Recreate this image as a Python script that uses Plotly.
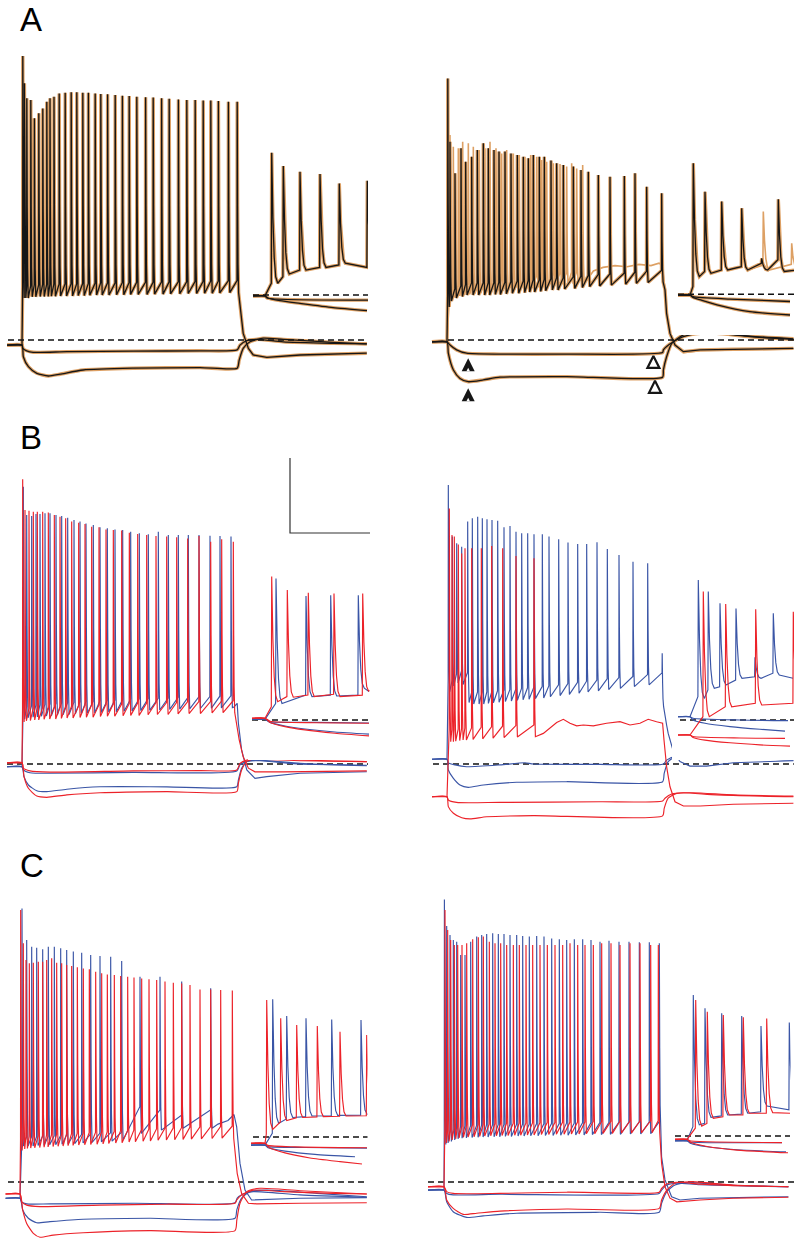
import plotly.graph_objects as go

# ---------------- scales (layout) ----------------
W, H = 794, 1239
PX_PER_MS = 0.4          # main traces
PX_PER_MS_INSET = 1.0    # expanded-time insets
PX_PER_MV = 3.0
REST_MV = -60.0          # dashed reference level

BLACK = "#161616"
ORANGE = "#DDA064"
RED = "#EC2229"
BLUE = "#3A55A6"
DASH_COLOR = "#111111"

MAIN_SHAPE = dict(rise=0.4, fall=[(1.0, 0.55), (2.0, 0.85), (3.5, 1.0)], thr=4.0)
INSET_SHAPE = dict(rise=0.4, fall=[(1.2, 0.5), (2.5, 0.8), (4.0, 0.95), (6.0, 1.0)], thr=2.0)

# ---------------- data: panel A left (black / orange) ----------------
AL_BASE = -61.7
AL_SPK_T = [2, 6, 12, 22, 31, 42, 52, 62, 70, 80, 93, 108, 123, 137, 152, 166, 183, 197, 214, 233,
            251, 268, 287, 309, 328, 349, 368, 391, 412, 433, 453, 472, 491, 516, 538]
AL_SPK_PK = [34.7, 25.6, 20.6, 20.0, 13.9, 15.6, 17.2, 19.4, 20.6, 21.1, 22.2, 22.4, 22.6, 22.6, 22.4,
             22.4, 22.2, 22.0, 21.9, 21.7, 21.4, 21.3, 21.1, 20.9, 20.8, 20.6, 20.4, 20.2, 20.0, 20.0,
             19.8, 19.8, 19.7, 19.4, 19.4]
AL_SPK_TR = [-46.0, -46.0, -46.0, -45.6, -45.6, -45.5, -45.5, -45.5, -45.4, -45.4, -45.3, -45.3, -45.3,
             -45.2, -45.2, -45.1, -45.0, -45.0, -45.0, -44.9, -44.9, -44.8, -44.8, -44.8, -44.7, -44.7,
             -44.6, -44.6, -44.5, -44.5, -44.4, -44.4, -44.3, -44.2, -44.2]
AL_POST = [[553, -57.8], [566, -62.8], [578, -65.0], [612, -65.8], [695, -65.0], [862, -64.4]]
AL_H1 = [[-37, -61.7], [0, -61.7], [1.7, -62.8], [11.7, -63.6], [28, -64.1], [112, -63.9], [278, -63.7],
         [445, -63.6], [538, -63.3], [545, -61.7], [562, -60.2], [587, -59.8], [653, -60.6], [778, -61.1],
         [862, -61.3]]
AL_H2 = [[-37, -61.7], [0, -61.7], [3.3, -65.6], [16, -68.9], [37, -71.1], [66, -72.0], [95, -71.4],
         [153, -70.0], [278, -69.4], [445, -69.2], [538, -69.4], [543, -66.7], [553, -62.8], [570, -60.6],
         [603, -59.4], [653, -59.8], [778, -60.8], [862, -61.3]]
ALI_BASE = -60.3
ALI_SPK_T = [6.7, 18.3, 35.0, 55.0, 74.3, 102.3]
ALI_SPK_PK = [-12.6, -17.0, -18.9, -19.7, -22.8, -21.9]
ALI_SPK_TR = [-56.1, -53.0, -51.7, -50.8, -49.4, -50.0]
ALI_SPK_PRE = [-56.1, -53.9, -51.7, -50.8, -50.0, -50.8]
ALI_H1 = [[-12, -60.3], [0, -60.3], [2, -61.0], [103, -61.7]]
ALI_H2 = [[-12, -60.3], [0, -60.3], [3, -61.0], [15, -61.9], [35, -62.8], [68, -64.2], [102, -65.2]]

# ---------------- data: panel A right ----------------
AR_BASE = -60.6
AR_SPK_T = [2, 7.5, 20, 35, 46.7, 61.7, 75.8, 90.8, 103.3, 117.5, 130, 145, 160, 175.8, 190.8, 203.3,
            215.8, 230.8, 243.3, 260, 274.2, 290.8, 315.8, 335, 353.3, 378.3, 407.5, 443.3, 470, 499.2, 536.7]
AR_SPK_PK = [27.2, 6.1, -4.4, 3.9, -0.6, 1.1, 3.3, 5.6, 3.9, 3.3, 2.8, 2.8, 2.2, 1.7, 1.1, 0.6, 1.7,
             1.1, 1.1, -0.2, -1.1, -1.7, -2.2, -3.3, -3.9, -5.0, -5.6, -5.3, -4.4, -8.9, -11.1]
AR_SPK_TR = [-49.0, -47.0, -46.0, -45.5, -45.0, -45.0, -45.0, -45.0, -45.0, -44.8, -44.8, -44.6, -44.4,
             -44.4, -44.2, -44.0, -44.0, -43.8, -43.6, -43.3, -43.3, -43.0, -42.8, -42.5, -42.2, -42.0,
             -41.7, -41.4, -41.1, -40.8, -40.6]
AR_POST = [[545, -43.3], [549, -51.1], [557.5, -57.8], [570, -61.7], [591, -63.9], [633, -63.3],
           [716, -63.1], [866, -62.8]]
AR_H1 = [[-37.5, -60.6], [0, -60.6], [7.5, -61.7], [24, -63.3], [49, -64.4], [132.5, -64.7], [299, -64.7],
         [539, -64.2], [541, -63.3], [549, -62.2], [566, -60.6], [591, -58.9], [633, -57.8], [674, -57.8],
         [758, -58.9], [866, -59.8]]
AR_H2 = [[-37.5, -60.6], [0, -60.6], [3.3, -64.4], [16, -70.0], [32.5, -72.8], [53, -73.9], [91, -73.3],
         [132.5, -72.4], [299, -72.2], [539, -72.4], [541, -70.0], [549, -65.6], [562, -61.1], [591, -58.3],
         [633, -57.2], [683, -57.6], [758, -58.7], [866, -59.6]]
AR_OR_T = [7.5, 15.8, 28.3, 39.2, 53.3, 65.8, 80.8, 95.0, 107.5, 122.5, 136.7, 149.2, 165.8, 180.8, 195.0,
           209.2, 224.2, 236.7, 249.2, 265.8, 282.5, 299.2, 311.7, 324.2, 339.2]
AR_OR_PK = [8.3, 4.4, 3.9, 6.1, 5.6, 4.4, 3.3, 3.9, 6.1, 3.9, 2.2, 3.3, 2.2, 1.7, 1.1, 1.7, 1.1, 0.0, -0.6,
            -1.1, -1.3, -2.2, -1.1, -2.8, -1.7]
AR_OR_TR = [-46.5, -45.8, -45.3, -45.0, -44.8, -44.6, -44.4, -44.2, -44.0, -43.8, -43.6, -43.4, -43.2,
            -43.0, -42.8, -42.6, -42.4, -42.2, -42.0, -41.8, -41.6, -41.4, -41.2, -41.0, -40.5]
AR_OR_TAIL = [[350, -40.0], [366, -37.0], [390, -35.8], [420, -35.2], [450, -35.6], [480, -34.8],
              [510, -35.2], [530, -34.4], [538, -35.0], [545, -43.3], [549, -51.1], [557.5, -57.8],
              [570, -61.7], [591, -64.2], [633, -63.6], [716, -63.3], [866, -63.0]]
ARI_BASE = -60.3
ARI_SPK_T = [3.3, 15.0, 31.7, 51.7, 71.7, 88.3]
ARI_SPK_PK = [-16.3, -25.8, -29.1, -31.3, -48.0, -28.3]
ARI_SPK_TR = [-54.1, -53.0, -51.9, -51.9, -51.9, -52.4]
ARI_SPK_PRE = [-57.4, -52.4, -51.9, -50.8, -49.7, -48.5]
ARI_TAIL = [[104, -52.0]]
ARI_OR_T = [3.3, 15.0, 31.7, 51.7, 73.3, 101.7]
ARI_OR_PK = [-16.3, -25.8, -29.1, -31.3, -32.4, -43.0]
ARI_OR_TR = [-54.1, -53.0, -51.9, -51.9, -51.9, -52.0]
ARI_OR_PRE = [-57.4, -52.4, -51.9, -50.8, -50.3, -50.0]
ARI_H1 = [[-12, -60.3], [0, -60.3], [3, -60.8], [40, -61.6], [100, -62.4]]
ARI_H2 = [[-12, -60.3], [0, -60.3], [3, -61.0], [12, -62.0], [27, -63.5], [60, -65.8], [100, -66.9]]
AR_ARROW_FILLED_T = [53, 53]
AR_ARROW_FILLED_V = [-66.1, -76.1]
AR_ARROW_OPEN_T = [516, 520]
AR_ARROW_OPEN_V = [-65.3, -73.6]

# ---------------- data: panel B left (blue / red) ----------------
BL_R_BASE = -59.6
BL_R_T = [1.7, 7.5, 17.5, 28.3, 38.3, 51.7, 65.8, 80.8, 95.0, 109.2, 124.2, 141.7, 157.5, 174.2, 192.5,
          210.0, 228.3, 249.2, 268.3, 289.2, 311.7, 335.0, 361.7, 386.7, 414.2, 442.5, 471.7, 499.2, 528.3]
BL_R_PK = [34.9, 24.7, 24.4, 24.1, 24.1, 24.1, 23.8, 23.0, 22.4, 21.9, 20.8, 20.4, 20.0, 19.1, 18.9,
           18.2, 18.0, 17.8, 17.1, 16.7, 16.3, 16.0, 15.8, 15.6, 15.2, 16.0, 14.1, 14.9, 14.1]
BL_R_TR = [-46.0, -45.6, -45.5, -45.3, -45.3, -45.1, -45.0, -45.0, -44.8, -44.7, -44.7, -44.5, -44.4,
           -44.4, -44.2, -44.1, -44.1, -43.9, -43.8, -43.8, -43.6, -43.5, -43.5, -43.3, -43.2, -43.2,
           -43.0, -42.9, -42.8]
BL_R_POST = [[543, -52.0], [553, -57.6], [566, -61.4], [582.5, -62.6], [653, -62.6], [862, -62.3]]
BL_B_BASE = -60.9
BL_B_T = [3.3, 11.7, 24.2, 35.0, 45.0, 57.5, 70.0, 85.0, 99.2, 114.2, 130.0, 145.0, 160.0, 178.3, 195.0,
          213.3, 232.5, 251.7, 271.7, 293.3, 315.8, 340.8, 365.8, 390.8, 415.8, 442.5, 470.0, 495.0, 522.5]
BL_B_PK = [32.4, 23.0, 22.7, 23.3, 23.3, 23.6, 23.6, 23.0, 22.7, 22.1, 21.3, 20.8, 20.2, 19.7, 18.9,
           18.6, 18.2, 18.0, 17.4, 16.9, 16.6, 17.4, 16.3, 16.3, 16.3, 16.3, 16.1, 16.0, 15.8]
BL_B_TR = [-45.0, -44.6, -44.4, -44.3, -44.1, -44.0, -43.9, -43.7, -43.6, -43.5, -43.3, -43.2, -43.1,
           -43.0, -42.8, -42.7, -42.6, -42.4, -42.3, -42.2, -42.1, -42.0, -41.8, -41.7, -41.6, -41.5,
           -41.4, -41.3, -41.2]
BL_B_POST = [[530, -41.0], [538, -39.8], [541, -46.4], [549, -55.3], [562, -62.0], [582.5, -64.8],
             [612, -64.2], [695, -63.1], [862, -62.6]]
BL_R_H1 = [[-37.5, -59.6], [0, -59.6], [3.3, -61.4], [20, -62.3], [70, -62.7], [278, -62.3], [445, -62.2],
           [537, -62.0], [545, -59.8], [562, -58.7], [595, -58.4], [695, -58.9], [862, -59.2]]
BL_B_H1 = [[-37.5, -60.9], [0, -60.9], [3.3, -62.0], [20, -62.9], [70, -63.1], [278, -62.8], [537, -62.3],
           [545, -60.3], [562, -59.2], [595, -58.9], [695, -60.0], [862, -60.4]]
BL_R_H2 = [[-37.5, -59.6], [0, -59.6], [5, -64.2], [16, -68.1], [37, -70.7], [62, -71.1], [112, -70.3],
           [195, -69.6], [362, -69.2], [537, -69.2], [541, -66.4], [549, -62.0], [562, -59.2], [587, -58.1],
           [653, -58.4], [778, -59.0], [862, -59.2]]
BL_B_H2 = [[-37.5, -60.9], [0, -60.9], [5, -64.2], [16, -67.0], [37, -68.9], [62, -69.2], [112, -68.4],
           [195, -67.6], [362, -67.6], [537, -67.6], [541, -65.3], [549, -61.4], [562, -59.2], [587, -58.7],
           [695, -59.8], [862, -60.6]]
BLI_R_BASE = -59.4
BLI_R_T = [6.7, 22.3, 43.3, 69.0, 97.7]
BLI_R_PK = [-12.2, -16.7, -17.6, -17.8, -17.8]
BLI_R_TR = [-53.9, -52.4, -52.2, -52.2, -50.5]
BLI_R_PRE = [-55.6, -52.2, -51.7, -51.4, -51.7]
BLI_R_TAIL = [[104, -50.0]]
BLI_B_BASE = -59.8
BLI_B_T = [11.0, 41.0, 65.7, 93.3]
BLI_B_PK = [-12.8, -18.7, -18.4, -18.4]
BLI_B_TR = [-54.5, -52.2, -52.0, -49.4]
BLI_B_PRE = [-54.5, -51.7, -51.7, -51.7]
BLI_B_TAIL = [[104, -50.5]]
BLI_R_H1 = [[-13, -59.4], [0, -59.4], [5, -60.4], [50, -60.9], [104, -61.1]]
BLI_R_H2 = [[-13, -59.4], [0, -59.4], [5, -60.8], [20, -62.2], [40, -63.3], [70, -64.4], [104, -65.3]]
BLI_B_H1 = [[-13, -59.8], [0, -59.8], [5, -60.6], [50, -60.8], [104, -61.0]]
BLI_B_H2 = [[-13, -59.8], [0, -59.8], [5, -60.8], [20, -62.0], [40, -63.0], [70, -64.0], [104, -64.7]]
SCALE_BAR_MS = 200
SCALE_BAR_MV = 25
SCALE_BAR_CORNER = [870, 17]   # (ms, mV) in panel B-left coordinates

# ---------------- data: panel B right ----------------
BR_B_BASE = -58.4
BR_B_T = [3.3, 13.3, 24.2, 36.7, 51.7, 63.3, 76.7, 88.3, 100.0, 112.5, 126.7, 142.5, 157.5, 172.5, 186.7,
          201.7, 217.5, 238.3, 255.0, 279.2, 302.5, 326.7, 349.2, 375.0, 400.8, 430.0, 465.0, 501.7, 538.0]
BR_B_PK = [33.0, 15.8, 13.6, 12.4, 20.8, 21.9, 22.4, 21.9, 21.6, 21.3, 21.1, 18.9, 19.3, 17.4, 16.9,
           16.9, 16.6, 16.6, 15.8, 14.9, 13.8, 13.3, 13.3, 13.9, 11.7, 9.7, 7.4, 6.9, -23.1]
BR_B_TR = [-36.0, -34.0, -33.0, -33.5, -39.5, -40.0, -40.0, -40.0, -39.8, -39.6, -39.4, -39.2, -39.0,
           -38.8, -38.6, -38.4, -38.2, -38.0, -37.6, -37.2, -36.8, -36.4, -36.0, -35.6, -35.2, -34.8,
           -34.2, -33.6, -40.9]
BR_B_POST = [[549, -47.0], [553, -49.8], [566, -55.9], [582.5, -59.2], [607.5, -60.7], [649, -60.7],
             [716, -59.6], [866, -58.9]]
BR_B_H1 = [[-37.5, -58.4], [0, -58.4], [3.3, -59.6], [20, -60.3], [49, -60.9], [132.5, -60.3], [195, -59.6],
           [216, -60.0], [382.5, -60.1], [541, -60.0], [549, -58.7], [574, -57.3], [616, -56.8], [674, -57.3],
           [758, -58.1], [866, -58.4]]
BR_B_H2 = [[-37.5, -58.4], [0, -58.4], [3.3, -62.0], [16, -64.8], [32.5, -67.0], [53, -67.8], [91, -67.0],
           [174, -66.1], [299, -65.9], [539, -65.9], [543, -63.1], [553, -59.2], [574, -57.3], [607.5, -56.7],
           [674, -57.3], [758, -58.1], [866, -58.7]]
BR_R_BASE = -70.9
BR_R_T = [5.8, 12.5, 18.3, 28.3, 36.7, 45.0, 61.7, 85.8, 111.7, 139.2, 172.5, 217.5]
BR_R_PK = [25.2, 16.3, 15.8, 13.2, 10.2, 11.9, 11.9, 11.9, 12.7, 11.9, 9.3, 8.6]
BR_R_TR = [-52.6, -52.6, -52.4, -52.2, -52.0, -52.0, -51.8, -51.6, -51.4, -51.2, -51.0, -50.9]
BR_R_POST = [[240.8, -49.8], [257.5, -48.1], [274.2, -46.2], [290.8, -45.1], [307.5, -46.4], [324.2, -47.3],
             [340.8, -47.0], [365.8, -47.3], [399, -46.4], [432.5, -45.9], [457.5, -47.0], [482.5, -46.4],
             [503, -45.1], [524, -45.9], [539, -46.4], [542.5, -52.0], [549, -60.9], [557.5, -67.6],
             [570, -72.6], [591, -74.0], [633, -74.0], [716, -73.4], [866, -73.1]]
BR_R_H1 = [[-37.5, -70.9], [0, -70.9], [3.3, -72.0], [24, -72.8], [132.5, -72.8], [382.5, -72.6],
           [539, -72.3], [545, -71.4], [562, -70.0], [591, -69.6], [674, -70.3], [866, -70.9]]
BR_R_H2 = [[-37.5, -70.9], [0, -70.9], [3.3, -74.2], [16, -76.4], [37, -77.9], [57.5, -78.3], [99, -77.6],
           [216, -77.2], [539, -77.3], [543, -74.8], [553, -71.4], [574, -69.8], [616, -69.6], [716, -70.3],
           [866, -70.7]]
BRI_B_BASE = -58.9
BRI_B_T = [8.3, 18.3, 30.0, 46.0, 65.0, 83.3]
BRI_B_PK = [-13.3, -17.2, -21.1, -22.8, -39.1, -24.4]
BRI_B_TR = [-52.8, -49.4, -48.3, -46.1, -46.1, -45.0]
BRI_B_PRE = [-52.2, -50.0, -48.9, -46.7, -45.6, -44.4]
BRI_B_TAIL = [[103, -46.1]]
BRI_R_BASE = -65.0
BRI_R_T = [13.3, 35.7, 65.7, 103.3]
BRI_R_PK = [-17.2, -21.3, -23.1, -23.9]
BRI_R_TR = [-58.9, -55.6, -55.0, -55.0]
BRI_R_PRE = [-58.9, -55.6, -54.4, -54.4]
BRI_B_H1 = [[-12, -58.9], [0, -58.9], [3, -59.4], [50, -60.0], [98, -60.2]]
BRI_B_H2 = [[-12, -58.9], [0, -58.9], [3, -60.0], [15, -61.1], [40, -62.2], [70, -63.1], [95, -63.7]]
BRI_R_H1 = [[-12, -65.0], [0, -65.0], [3, -65.5], [50, -66.0], [95, -66.1]]
BRI_R_H2 = [[-12, -65.0], [0, -65.0], [3, -65.8], [15, -66.7], [40, -67.6], [70, -68.3], [100, -68.7]]

# ---------------- data: panel C left ----------------
CL_R_BASE = -64.0
CL_R_T = [1.7, 8.3, 15.0, 23.3, 33.3, 45.8, 56.7, 66.7, 79.2, 91.7, 104.2, 116.7, 129.2, 143.3, 158.3,
          173.3, 189.2, 204.2, 218.3, 235.8, 251.7, 269.2, 285.0, 304.2, 322.5, 341.7, 362.5, 383.3, 404.2,
          425.0, 450.0, 476.7, 501.7, 530.8]
CL_R_PK = [30.7, 19.6, 14.0, 12.9, 13.1, 13.4, 13.4, 14.0, 14.6, 13.1, 12.9, 12.3, 12.0, 11.6, 11.2,
           10.9, 10.1, 9.6, 9.2, 9.0, 8.7, 8.4, 8.2, 7.8, 7.6, 7.3, 6.8, 6.4, 6.2, 5.7, 4.2, 4.2, 4.0, 3.8]
CL_R_TR = [-49.5, -49.0, -48.8, -48.7, -48.6, -48.5, -48.4, -48.3, -48.2, -48.1, -48.0, -47.9, -47.8,
           -47.7, -47.6, -47.5, -47.4, -47.3, -47.2, -47.0, -46.9, -46.7, -46.6, -46.4, -46.3, -46.1,
           -46.0, -45.9, -45.8, -45.7, -45.6, -45.5, -45.4, -45.4]
CL_R_POST = [[543, -57.1], [554, -63.8], [571, -67.1], [592, -67.3], [700, -67.1], [867, -66.9]]
CL_B_BASE = -65.4
CL_B_T = [5.0, 16.7, 29.2, 41.7, 56.7, 70.8, 85.8, 101.7, 116.7, 133.3, 154.2, 176.7, 200.0, 226.7, 254.2,
          300.0, 350.0, 404.2, 476.7]
CL_B_PK = [31.2, 20.7, 18.4, 18.1, 17.6, 18.4, 18.4, 17.9, 17.3, 16.8, 16.4, 15.7, 15.3, 15.1, 13.7, 8.4,
           8.4, 6.8, 4.6]
CL_B_TR = [-48.0, -48.0, -48.0, -47.8, -47.8, -47.6, -47.6, -47.4, -47.4, -47.2, -47.0, -46.8, -46.6,
           -46.4, -46.0, -43.8, -42.7, -42.1, -42.1]
CL_B_PRE = [-46.0, -45.0, -45.0, -45.0, -44.8, -44.8, -44.6, -44.6, -44.4, -44.4, -44.2, -44.0, -43.8,
            -43.6, -43.4, -34.9, -36.0, -37.7, -36.0]
CL_B_POST = [[495, -40.7], [520, -39.5], [535, -37.5], [541.7, -41.6], [550, -53.8], [562.5, -62.7],
             [579, -66.0], [617, -65.8], [700, -65.4], [867, -65.2]]
CL_R_H1 = [[-36, -64.0], [0, -64.0], [4, -66.6], [16.7, -67.7], [50, -68.2], [200, -67.7], [367, -67.4],
           [537.5, -67.1], [542, -66.0], [554, -64.3], [583, -62.7], [658, -63.2], [783, -63.8], [867, -64.0]]
CL_B_H1 = [[-36, -65.4], [0, -65.4], [4, -66.6], [16.7, -67.3], [75, -67.3], [283, -67.1], [537.5, -66.9],
           [543, -65.4], [558, -64.0], [583, -63.2], [700, -64.3], [867, -65.1]]
CL_B_H2 = [[-36, -65.4], [0, -65.4], [6.7, -69.3], [20.8, -72.1], [41.7, -73.6], [75, -73.2], [158, -72.4],
           [325, -72.1], [537.5, -72.1], [542, -69.3], [554, -65.4], [575, -63.2], [617, -62.7], [742, -63.8],
           [867, -64.9]]
CL_R_H2 = [[-36, -64.0], [0, -64.0], [6.7, -69.3], [16.7, -73.8], [33.3, -77.1], [50, -78.4], [83, -77.7],
           [158, -76.9], [325, -76.2], [537.5, -76.2], [542, -72.7], [550, -67.1], [567, -63.2], [600, -62.1],
           [700, -62.9], [867, -64.0]]
CLI_R_BASE = -62.1
CLI_R_T = [1.7, 15.7, 31.7, 52.3, 75.0, 101.7]
CLI_R_PK = [-14.3, -20.4, -22.7, -23.0, -24.9, -26.0]
CLI_R_TR = [-57.5, -54.5, -53.5, -53.2, -53.0, -52.8]
CLI_R_PRE = [-59.0, -55.0, -53.6, -53.3, -53.1, -52.9]
CLI_B_BASE = -62.7
CLI_B_T = [7.7, 21.7, 41.0, 66.7, 96.0]
CLI_B_PK = [-14.1, -19.7, -20.4, -20.8, -21.0]
CLI_B_TR = [-55.5, -53.5, -53.0, -52.8, -52.6]
CLI_B_PRE = [-58.8, -54.0, -53.2, -52.9, -52.7]
CLI_B_TAIL = [[102.5, -52.6]]
CLI_R_H1 = [[-14, -62.1], [0, -62.1], [3, -62.8], [30, -63.3], [102, -63.6]]
CLI_R_H2 = [[-14, -62.1], [0, -62.1], [4, -63.5], [20, -65.3], [45, -67.0], [75, -68.2], [97, -69.0]]
CLI_B_H1 = [[-14, -62.7], [0, -62.7], [3, -63.2], [40, -63.5], [102, -63.7]]
CLI_B_H2 = [[-14, -62.7], [0, -62.7], [3, -63.6], [20, -64.7], [50, -65.8], [90, -66.6]]

# ---------------- data: panel C right ----------------
CR_B_BASE = -62.7
CR_B_T = [1.0, 6.7, 15.0, 23.3, 31.7, 41.7, 52.5, 66.7, 81.7, 94.2, 106.7, 121.7, 135.8, 150.0, 165.0,
          181.7, 196.7, 213.3, 231.7, 250.0, 269.2, 288.3, 306.7, 325.8, 346.7, 367.5, 390.0, 412.5, 437.5,
          462.5, 488.3, 513.3, 538.3]
CR_B_PK = [34.2, 25.3, 22.3, 20.7, 20.1, 15.7, 15.7, 20.1, 21.8, 22.3, 22.7, 22.9, 22.7, 22.7, 22.3,
           22.3, 22.0, 21.8, 22.0, 21.8, 21.2, 20.9, 20.7, 20.9, 20.9, 20.7, 20.1, 20.4, 20.1, 20.1, 19.9,
           19.9, 19.6]
CR_B_TR = [-47.5, -47.0, -46.5, -46.0, -45.6, -45.4, -45.3, -45.2, -45.1, -45.0, -45.0, -44.9, -44.9,
           -44.8, -44.8, -44.7, -44.7, -44.6, -44.6, -44.5, -44.5, -44.4, -44.4, -44.3, -44.3, -44.2,
           -44.2, -44.1, -44.1, -44.0, -44.0, -43.9, -43.9]
CR_B_POST = [[544, -51.6], [552.5, -59.3], [569, -64.9], [590, -66.0], [640, -65.4], [861, -64.9]]
CR_R_BASE = -61.6
CR_R_T = [2.5, 9.2, 16.7, 25.8, 34.2, 45.0, 56.7, 71.7, 85.8, 98.3, 113.3, 127.5, 141.7, 156.7, 173.3,
          188.3, 205.0, 221.7, 240.0, 258.3, 277.5, 296.7, 315.0, 334.2, 352.5, 373.3, 394.2, 417.5, 440.0,
          465.0, 490.0, 516.7, 535.8]
CR_R_PK = [30.7, 24.0, 20.7, 19.0, 19.0, 19.0, 19.6, 20.9, 21.6, 21.8, 20.1, 19.6, 19.6, 19.0, 19.0,
           19.0, 19.0, 19.0, 19.0, 19.0, 19.0, 19.0, 19.6, 19.0, 19.0, 19.0, 19.6, 19.6, 19.0, 19.6, 19.6,
           19.0, 19.0]
CR_R_TR = [-47.0, -46.5, -46.0, -45.6, -45.3, -45.1, -45.0, -44.9, -44.8, -44.7, -44.6, -44.6, -44.5,
           -44.5, -44.4, -44.4, -44.3, -44.3, -44.2, -44.2, -44.1, -44.1, -44.0, -44.0, -43.9, -43.9,
           -43.8, -43.8, -43.7, -43.7, -43.6, -43.6, -43.5]
CR_R_POST = [[544, -53.8], [552.5, -61.6], [565, -65.4], [582, -66.6], [640, -66.0], [723, -65.4],
             [861, -65.1]]
CR_R_H1 = [[-40, -61.6], [0, -61.6], [6.7, -63.2], [23, -63.8], [140, -63.8], [307, -63.4], [538, -63.4],
           [544, -62.1], [557, -60.7], [582, -60.1], [640, -60.7], [723, -61.2], [861, -61.6]]
CR_B_H1 = [[-40, -62.7], [0, -62.7], [6.7, -63.8], [23, -64.3], [140, -64.1], [538, -63.8], [544, -62.7],
           [557, -61.0], [582, -60.4], [640, -60.9], [861, -61.6]]
CR_R_H2 = [[-40, -61.6], [0, -61.6], [6.7, -66.0], [23, -68.8], [48, -70.8], [82, -70.4], [140, -69.7],
           [307, -69.0], [538, -68.8], [544, -66.0], [557, -62.7], [577.5, -60.4], [615, -59.9], [723, -61.0],
           [861, -61.6]]
CR_B_H2 = [[-40, -62.7], [0, -62.7], [6.7, -66.6], [23, -69.9], [56.7, -71.8], [98, -71.3], [182, -70.4],
           [390, -70.1], [538, -70.1], [544, -67.1], [557, -63.2], [577.5, -61.0], [615, -60.2], [723, -61.1],
           [861, -61.6]]
CRI_B_BASE = -61.6
CRI_B_T = [6.3, 18.0, 34.7, 54.7, 74.0, 102.3]
CRI_B_PK = [-13.0, -17.4, -19.1, -20.0, -23.3, -22.2]
CRI_B_TR = [-56.3, -53.8, -53.0, -52.4, -50.0, -51.0]
CRI_B_PRE = [-56.9, -55.8, -53.3, -52.7, -51.9, -51.3]
CRI_R_BASE = -61.1
CRI_R_T = [8.7, 20.3, 36.3, 56.3, 79.7]
CRI_R_PK = [-14.7, -18.6, -19.7, -20.4, -20.8]
CRI_R_TR = [-56.7, -54.1, -53.0, -52.4, -52.2]
CRI_R_PRE = [-57.4, -55.8, -53.6, -53.0, -52.4]
CRI_R_TAIL = [[103, -52.4]]
CRI_R_H1 = [[-12, -61.1], [0, -61.1], [3, -61.6], [95, -62.2]]
CRI_B_H1 = [[-12, -61.6], [0, -61.6], [3, -62.0], [95, -62.2]]
CRI_R_H2 = [[-12, -61.1], [0, -61.1], [4, -62.2], [20, -63.5], [50, -64.7], [101, -65.6]]
CRI_B_H2 = [[-12, -61.6], [0, -61.6], [4, -62.5], [20, -63.6], [50, -64.6], [99, -65.3]]

# dashed reference extents (ms) : main, inset
DASH_EXT = {
    "AL": ([-35, 865], [-12, 103]),
    "AR": ([2.5, 870], [-12, 104]),
    "BL": ([-37.5, 865], [-13, 105]),
    "BR": ([-35, 867], [-10, 104]),
    "CL": ([-30, 870], [-12, 103]),
    "CR": ([-40, 875], [-12, 103]),
}

# ---------------- layout geometry (pixels) ----------------
PANELS = {
    "AL": dict(col=(0, 400), row=(0, 415), onset=22, dash=340,
               ins_x=(248, 368), ins_y=(120, 335), ins_onset=265, ins_dash=295),
    "AR": dict(col=(400, 794), row=(0, 415), onset=447, dash=340,
               ins_x=(672, 794), ins_y=(120, 335), ins_onset=690, ins_dash=294.3),
    "BL": dict(col=(0, 400), row=(420, 845), onset=22, dash=764,
               ins_x=(248, 370), ins_y=(540, 760), ins_onset=265, ins_dash=720),
    "BR": dict(col=(400, 794), row=(420, 845), onset=447, dash=764,
               ins_x=(672, 794), ins_y=(540, 760), ins_onset=690, ins_dash=720),
    "CL": dict(col=(0, 400), row=(850, 1239), onset=20, dash=1182,
               ins_x=(248, 367.5), ins_y=(960, 1175), ins_onset=265, ins_dash=1137),
    "CR": dict(col=(400, 794), row=(850, 1239), onset=444, dash=1182,
               ins_x=(668, 790.5), ins_y=(960, 1175), ins_onset=687, ins_dash=1136),
}
ORDER = ["AL", "AR", "BL", "BR", "CL", "CR"]


def train_xy(t_start, base, times, peaks, troughs, pre=None, tail=(), shape=MAIN_SHAPE):
    xs, ys = [t_start, 0.0], [base, base]
    n = len(times)
    for i in range(n):
        t, pk, tr = times[i], peaks[i], troughs[i]
        if pre is not None:
            p = pre[i]
        elif i == 0:
            p = troughs[0] + shape["thr"]
        else:
            p = troughs[i - 1] + shape["thr"]
        xs.append(max(t - shape["rise"], xs[-1]))
        ys.append(p)
        xs.append(t)
        ys.append(pk)
        t_next = times[i + 1] - shape["rise"] if i + 1 < n else float("inf")
        for dt, frac in shape["fall"]:
            if t + dt >= t_next:
                break
            xs.append(t + dt)
            ys.append(pk - frac * (pk - tr))
    for tt, vv in tail:
        xs.append(tt)
        ys.append(vv)
    return xs, ys


def pts_xy(pts):
    return [p[0] for p in pts], [p[1] for p in pts]


fig = go.Figure()
axis_of = {}
layout_axes = {}
for k, name in enumerate(ORDER):
    P = PANELS[name]
    im, ii = 2 * k + 1, 2 * k + 2
    axis_of[name] = (im, ii)
    x0, x1 = P["col"]
    y0, y1 = P["row"]
    layout_axes["xaxis%d" % im] = dict(domain=[x0 / W, x1 / W],
                                       range=[(x0 - P["onset"]) / PX_PER_MS, (x1 - P["onset"]) / PX_PER_MS])
    layout_axes["yaxis%d" % im] = dict(domain=[1 - y1 / H, 1 - y0 / H],
                                       range=[REST_MV + (P["dash"] - y1) / PX_PER_MV,
                                              REST_MV + (P["dash"] - y0) / PX_PER_MV])
    x0, x1 = P["ins_x"]
    y0, y1 = P["ins_y"]
    layout_axes["xaxis%d" % ii] = dict(domain=[x0 / W, x1 / W],
                                       range=[(x0 - P["ins_onset"]) / PX_PER_MS_INSET,
                                              (x1 - P["ins_onset"]) / PX_PER_MS_INSET])
    layout_axes["yaxis%d" % ii] = dict(domain=[1 - y1 / H, 1 - y0 / H],
                                       range=[REST_MV + (P["ins_dash"] - y1) / PX_PER_MV,
                                              REST_MV + (P["ins_dash"] - y0) / PX_PER_MV])

for key, ax in layout_axes.items():
    ax.update(visible=False, showgrid=False, zeroline=False, fixedrange=True, autorange=False)
    if key.startswith("yaxis"):
        ax["anchor"] = "x" + key[5:]
    else:
        ax["anchor"] = "y" + key[5:]


def add(xs, ys, ax, color, width, smooth=False, dash=None):
    ref = "" if ax == 1 else str(ax)
    line = dict(color=color, width=width)
    if smooth:
        line.update(shape="spline", smoothing=0.6)
    if dash:
        line["dash"] = dash
    fig.add_trace(go.Scatter(x=xs, y=ys, mode="lines", line=line, hoverinfo="skip",
                             showlegend=False, xaxis="x" + ref, yaxis="y" + ref))


def add_dash(name):
    im, ii = axis_of[name]
    m, i = DASH_EXT[name]
    add(m, [REST_MV, REST_MV], im, DASH_COLOR, 1.4, dash="6px,4px")
    add(i, [REST_MV, REST_MV], ii, DASH_COLOR, 1.4, dash="6px,4px")


def add_cell(name, color, width, main, hyp, ins, ins_hyp):
    im, ii = axis_of[name]
    for h in hyp:
        add(*pts_xy(h), im, color, width, smooth=True)
    add(*main, im, color, width)
    for h in ins_hyp:
        add(*pts_xy(h), ii, color, width, smooth=True)
    add(*ins, ii, color, width)


# ---- Panel A left ----
al_main = train_xy(-37, AL_BASE, AL_SPK_T, AL_SPK_PK, AL_SPK_TR, tail=AL_POST)
al_ins = train_xy(-12, ALI_BASE, ALI_SPK_T, ALI_SPK_PK, ALI_SPK_TR, pre=ALI_SPK_PRE, shape=INSET_SHAPE)
add_cell("AL", ORANGE, 3.4, al_main, [AL_H1, AL_H2], al_ins, [ALI_H1, ALI_H2])
add_dash("AL")
add_cell("AL", BLACK, 1.3, al_main, [AL_H1, AL_H2], al_ins, [ALI_H1, ALI_H2])

# ---- Panel A right ----
ar_main = train_xy(-37.5, AR_BASE, AR_SPK_T, AR_SPK_PK, AR_SPK_TR, tail=AR_POST)
ar_ins = train_xy(-12, ARI_BASE, ARI_SPK_T, ARI_SPK_PK, ARI_SPK_TR, pre=ARI_SPK_PRE, tail=ARI_TAIL,
                  shape=INSET_SHAPE)
ar_or = train_xy(-37.5, AR_BASE, AR_OR_T, AR_OR_PK, AR_OR_TR, tail=AR_OR_TAIL)
ar_or_ins = train_xy(-12, ARI_BASE, ARI_OR_T, ARI_OR_PK, ARI_OR_TR, pre=ARI_OR_PRE, shape=INSET_SHAPE)
add_cell("AR", ORANGE, 3.4, ar_main, [AR_H1, AR_H2], ar_ins, [ARI_H1, ARI_H2])
add(*ar_or, axis_of["AR"][0], ORANGE, 1.6)
add(*ar_or_ins, axis_of["AR"][1], ORANGE, 1.6)
add_dash("AR")
add_cell("AR", BLACK, 1.3, ar_main, [AR_H1, AR_H2], ar_ins, [ARI_H1, ARI_H2])
ref = str(axis_of["AR"][0])
fig.add_trace(go.Scatter(x=AR_ARROW_FILLED_T, y=AR_ARROW_FILLED_V, mode="markers",
                         marker=dict(symbol="arrow-up", size=13, color=BLACK, line=dict(width=0)),
                         hoverinfo="skip", showlegend=False, xaxis="x" + ref, yaxis="y" + ref))
fig.add_trace(go.Scatter(x=AR_ARROW_FILLED_T, y=[v - 9.5 / PX_PER_MV for v in AR_ARROW_FILLED_V],
                         mode="markers",
                         marker=dict(symbol="arrow-up", size=3.5, color="white", line=dict(width=0)),
                         hoverinfo="skip", showlegend=False, xaxis="x" + ref, yaxis="y" + ref))
fig.add_trace(go.Scatter(x=AR_ARROW_OPEN_T, y=AR_ARROW_OPEN_V, mode="markers",
                         marker=dict(symbol="arrow-up-open", size=12, color=BLACK,
                                     line=dict(width=2.2, color=BLACK)),
                         hoverinfo="skip", showlegend=False, xaxis="x" + ref, yaxis="y" + ref))

# ---- Panel B left ----
add_dash("BL")
add_cell("BL", BLUE, 1.15,
         train_xy(-37.5, BL_B_BASE, BL_B_T, BL_B_PK, BL_B_TR, tail=BL_B_POST), [BL_B_H1, BL_B_H2],
         train_xy(-13, BLI_B_BASE, BLI_B_T, BLI_B_PK, BLI_B_TR, pre=BLI_B_PRE, tail=BLI_B_TAIL,
                  shape=INSET_SHAPE), [BLI_B_H1, BLI_B_H2])
add_cell("BL", RED, 1.15,
         train_xy(-37.5, BL_R_BASE, BL_R_T, BL_R_PK, BL_R_TR, tail=BL_R_POST), [BL_R_H1, BL_R_H2],
         train_xy(-13, BLI_R_BASE, BLI_R_T, BLI_R_PK, BLI_R_TR, pre=BLI_R_PRE, tail=BLI_R_TAIL,
                  shape=INSET_SHAPE), [BLI_R_H1, BLI_R_H2])
ct, cv = SCALE_BAR_CORNER
add([ct - SCALE_BAR_MS, ct - SCALE_BAR_MS, ct], [cv + SCALE_BAR_MV, cv, cv], axis_of["BL"][0], "#333333", 1.2)

# ---- Panel B right ----
add_dash("BR")
add_cell("BR", BLUE, 1.15,
         train_xy(-37.5, BR_B_BASE, BR_B_T, BR_B_PK, BR_B_TR, tail=BR_B_POST), [BR_B_H1, BR_B_H2],
         train_xy(-12, BRI_B_BASE, BRI_B_T, BRI_B_PK, BRI_B_TR, pre=BRI_B_PRE, tail=BRI_B_TAIL,
                  shape=INSET_SHAPE), [BRI_B_H1, BRI_B_H2])
add_cell("BR", RED, 1.15,
         train_xy(-37.5, BR_R_BASE, BR_R_T, BR_R_PK, BR_R_TR, tail=BR_R_POST), [BR_R_H1, BR_R_H2],
         train_xy(-12, BRI_R_BASE, BRI_R_T, BRI_R_PK, BRI_R_TR, pre=BRI_R_PRE, shape=INSET_SHAPE),
         [BRI_R_H1, BRI_R_H2])

# ---- Panel C left ----
add_dash("CL")
add_cell("CL", BLUE, 1.15,
         train_xy(-36, CL_B_BASE, CL_B_T, CL_B_PK, CL_B_TR, pre=CL_B_PRE, tail=CL_B_POST), [CL_B_H1, CL_B_H2],
         train_xy(-14, CLI_B_BASE, CLI_B_T, CLI_B_PK, CLI_B_TR, pre=CLI_B_PRE, tail=CLI_B_TAIL,
                  shape=INSET_SHAPE), [CLI_B_H1, CLI_B_H2])
add_cell("CL", RED, 1.15,
         train_xy(-36, CL_R_BASE, CL_R_T, CL_R_PK, CL_R_TR, tail=CL_R_POST), [CL_R_H1, CL_R_H2],
         train_xy(-14, CLI_R_BASE, CLI_R_T, CLI_R_PK, CLI_R_TR, pre=CLI_R_PRE, shape=INSET_SHAPE),
         [CLI_R_H1, CLI_R_H2])

# ---- Panel C right ----
add_dash("CR")
add_cell("CR", BLUE, 1.15,
         train_xy(-40, CR_B_BASE, CR_B_T, CR_B_PK, CR_B_TR, tail=CR_B_POST), [CR_B_H1, CR_B_H2],
         train_xy(-12, CRI_B_BASE, CRI_B_T, CRI_B_PK, CRI_B_TR, pre=CRI_B_PRE, shape=INSET_SHAPE),
         [CRI_B_H1, CRI_B_H2])
add_cell("CR", RED, 1.15,
         train_xy(-40, CR_R_BASE, CR_R_T, CR_R_PK, CR_R_TR, tail=CR_R_POST), [CR_R_H1, CR_R_H2],
         train_xy(-12, CRI_R_BASE, CRI_R_T, CRI_R_PK, CRI_R_TR, pre=CRI_R_PRE, tail=CRI_R_TAIL,
                  shape=INSET_SHAPE), [CRI_R_H1, CRI_R_H2])

# ---- panel letters (box top in px) ----
LETTERS = [("A", 0), ("B", 418), ("C", 846)]
annotations = [dict(text=t, x=19 / W, y=1 - ytop / H, xref="paper", yref="paper", xanchor="left",
                    yanchor="top", showarrow=False, borderpad=0,
                    font=dict(family="Liberation Sans, Arial, sans-serif", size=33, color="black"))
               for t, ytop in LETTERS]

fig.update_layout(width=W, height=H, autosize=False, margin=dict(l=0, r=0, t=0, b=0),
                  paper_bgcolor="white", plot_bgcolor="white", showlegend=False,
                  annotations=annotations, **layout_axes)

fig.write_html("out.html", config={"displayModeBar": False, "staticPlot": True},
               post_script="document.body.style.margin='0px';")
